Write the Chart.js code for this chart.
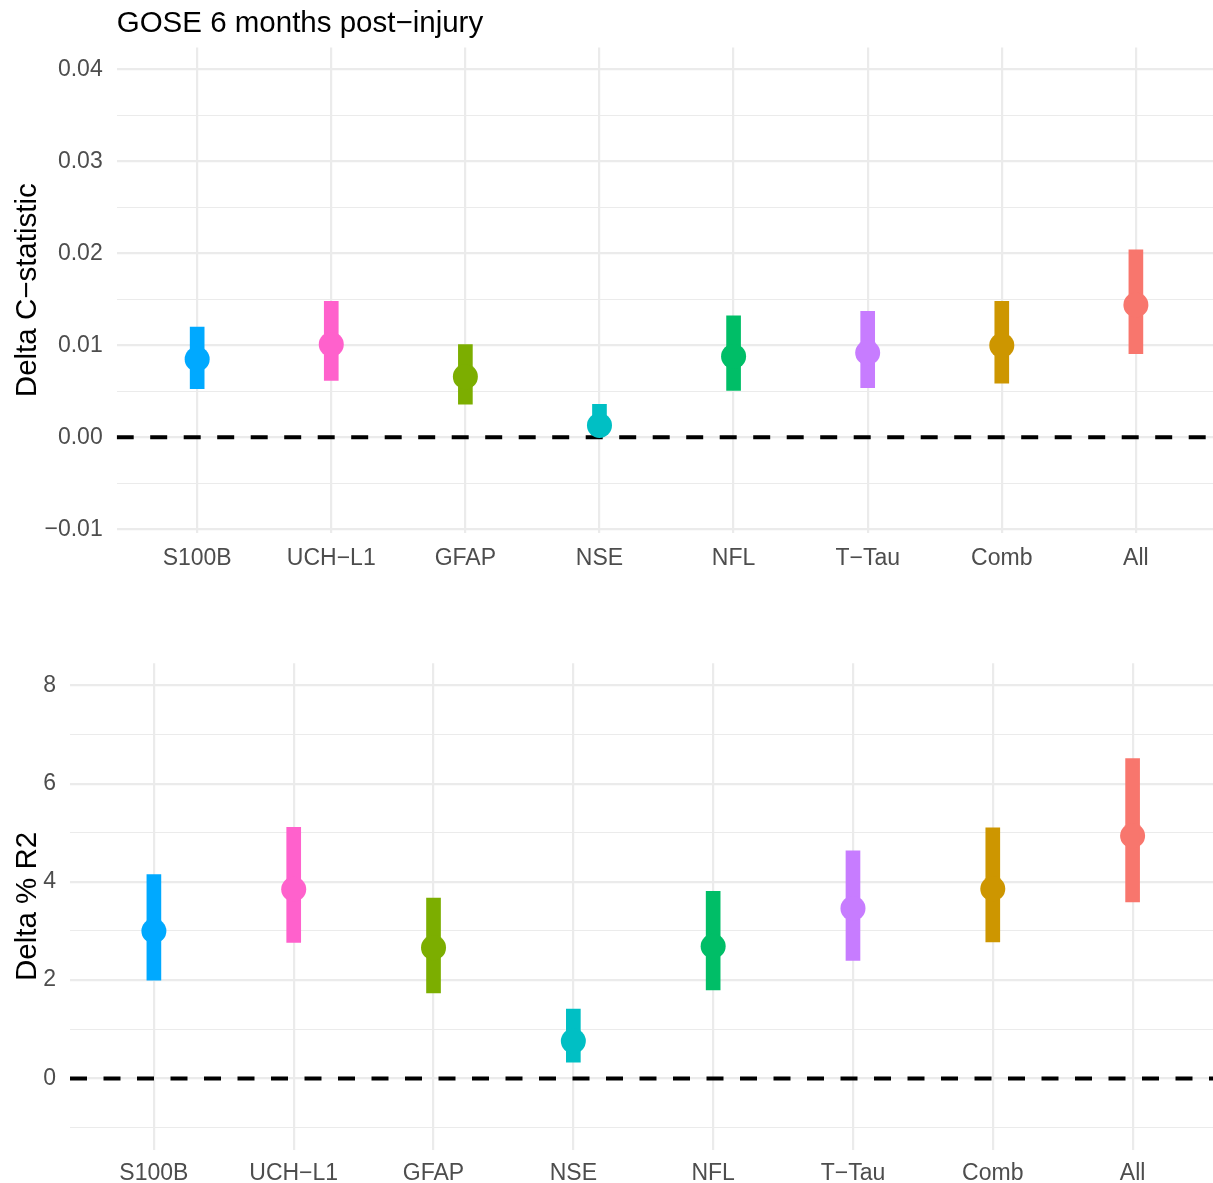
<!DOCTYPE html>
<html>
<head>
<meta charset="utf-8">
<script src="https://cdn.jsdelivr.net/npm/chart.js@4/dist/chart.umd.min.js"></script>
<style>
  html, body { margin: 0; padding: 0; background: #ffffff; }
  #wrap { position: relative; width: 1213px; height: 1183px; overflow: hidden; }
  .panel { position: absolute; left: 0; width: 1213px; }
  #top_panel { top: 0; height: 580px; }
  #bottom_panel { top: 583px; height: 600px; }
</style>
</head>
<body>
<div id="wrap">
  <div class="panel" id="top_panel"><canvas id="chart_c" width="1213" height="580"></canvas></div>
  <div class="panel" id="bottom_panel"><canvas id="chart_r2" width="1213" height="600"></canvas></div>
</div>
<script>
// categories and colours (ggplot hue palette)
const categories = ["S100B", "UCH\u2212L1", "GFAP", "NSE", "NFL", "T\u2212Tau", "Comb", "All"];
const colors = ["#00A9FF", "#FF61CC", "#7CAE00", "#00BFC4", "#00BE67", "#C77CFF", "#CD9600", "#F8766D"];

// Delta C-statistic (top panel)
const c_est = [0.0085, 0.0101, 0.0066, 0.0013, 0.0088, 0.0092, 0.0100, 0.0144];
const c_lower = [0.0053, 0.0062, 0.0036, 0.0003, 0.0051, 0.0054, 0.0059, 0.0091];
const c_upper = [0.0120, 0.0148, 0.0101, 0.0036, 0.0132, 0.0137, 0.0148, 0.0204];
const c_tick_values = [-0.01, -0.005, 0, 0.005, 0.01, 0.015, 0.02, 0.025, 0.03, 0.035, 0.04];
const c_tick_labels = ["\u22120.01", "", "0.00", "", "0.01", "", "0.02", "", "0.03", "", "0.04"];

// Delta % R2 (bottom panel)
const r2_est = [3.00, 3.85, 2.66, 0.76, 2.69, 3.46, 3.86, 4.94];
const r2_lower = [2.00, 2.77, 1.74, 0.33, 1.80, 2.40, 2.78, 3.59];
const r2_upper = [4.15, 5.11, 3.67, 1.41, 3.81, 4.63, 5.10, 6.51];
const r2_tick_values = [-1, 0, 1, 2, 3, 4, 5, 6, 7, 8];
const r2_tick_labels = ["", "0", "", "2", "", "4", "", "6", "", "8"];

const font_family = "'Liberation Sans', Arial, Helvetica, sans-serif";
const grid_color = "#EBEBEB";
const x_min = -0.6;
const x_max = 7.575;

function show_error(e) {
  console.error(e);
}

function make_chart(canvas_id, s) {
  const ctx = document.getElementById(canvas_id).getContext("2d");
  const points = s.est.map((v, i) => ({ x: i, y: v }));
  const bars = s.lower.map((v, i) => ({ x: i, y: [v, s.upper[i]] }));

  return new Chart(ctx, {
    data: {
      datasets: [
        {
          type: "line",
          label: "estimate",
          data: points,
          showLine: false,
          pointRadius: 12.5,
          pointHoverRadius: 12.5,
          pointBorderWidth: 0,
          pointBackgroundColor: colors,
        },
        {
          type: "bar",
          label: "interval",
          data: bars,
          backgroundColor: colors,
          borderWidth: 0,
          barThickness: 14,
        },
        {
          type: "line",
          label: "zero",
          data: [{ x: x_min, y: 0 }, { x: x_max, y: 0 }],
          borderColor: "#000000",
          borderWidth: 4,
          borderDash: [17, 16.5],
          borderCapStyle: "butt",
          pointRadius: 0,
        },
      ],
    },
    options: {
      responsive: false,
      animation: false,
      events: [],
      layout: {
        autoPadding: false,
        padding: { top: s.pad_top, left: 0, right: 0, bottom: 0 },
      },
      plugins: {
        legend: { display: false },
        tooltip: { enabled: false },
        title: {
          display: !!s.title,
          text: s.title || "",
          align: "start",
          fullSize: false,
          color: "#000000",
          font: { family: font_family, size: 29.5, weight: "normal", lineHeight: 1.2 },
          padding: { top: 6, bottom: 6 },
        },
      },
      scales: {
        x: {
          type: "linear",
          offset: false,
          min: x_min,
          max: x_max,
          border: { display: false },
          grid: { color: grid_color, lineWidth: 2.2, drawTicks: false, offset: false },
          afterBuildTicks: (scale) => {
            scale.ticks = categories.map((_, i) => ({ value: i }));
          },
          afterFit: (scale) => {
            scale.height = s.x_height;
            scale.paddingLeft = 0;
            scale.paddingRight = 0;
          },
          ticks: {
            autoSkip: false,
            maxRotation: 0,
            padding: s.x_pad,
            color: "#4D4D4D",
            font: { family: font_family, size: 23 },
            callback: (value) => categories[Math.round(value)],
          },
        },
        y: {
          type: "linear",
          min: s.y_min,
          max: s.y_max,
          border: { display: false },
          grid: {
            color: grid_color,
            drawTicks: false,
            lineWidth: (c) => (s.tick_labels[c.index] !== "" ? 2.2 : 1.1),
          },
          afterBuildTicks: (scale) => {
            scale.ticks = s.tick_values.map((v) => ({ value: v }));
          },
          afterFit: (scale) => {
            scale.width = s.y_width;
          },
          ticks: {
            padding: 14,
            color: "#4D4D4D",
            font: { family: font_family, size: 23 },
            callback: (value, index) => s.tick_labels[index],
          },
          title: {
            display: true,
            text: s.y_title,
            color: "#000000",
            font: { family: font_family, size: 29.5, lineHeight: 1.2 },
            padding: { top: 10, bottom: 0 },
          },
        },
      },
    },
  });
}

try {
  make_chart("chart_c", {
    title: "GOSE 6 months post\u2212injury",
    y_title: "Delta C\u2212statistic",
    est: c_est,
    lower: c_lower,
    upper: c_upper,
    tick_values: c_tick_values,
    tick_labels: c_tick_labels,
    y_min: -0.0104,
    y_max: 0.0424,
    y_width: 116.7,
    x_height: 47,
    x_pad: 12,
    pad_top: 0,
  });

  make_chart("chart_r2", {
    title: "",
    y_title: "Delta % R2",
    est: r2_est,
    lower: r2_lower,
    upper: r2_upper,
    tick_values: r2_tick_values,
    tick_labels: r2_tick_labels,
    y_min: -1.452,
    y_max: 8.452,
    y_width: 70,
    x_height: 33.3,
    x_pad: 10,
    pad_top: 80.2,
  });
} catch (e) {
  show_error(e);
}
</script>
</body>
</html>
